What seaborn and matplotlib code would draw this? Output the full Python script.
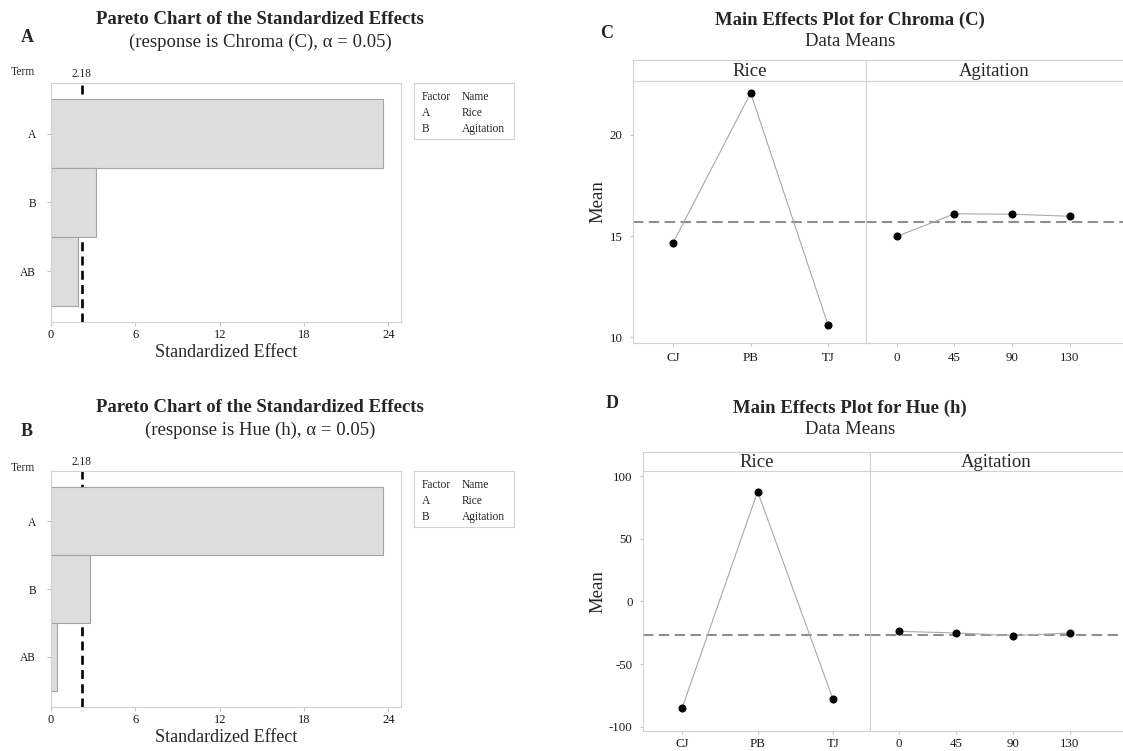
import matplotlib
matplotlib.use("Agg")
import matplotlib.pyplot as plt
import seaborn as sns
import pandas as pd

# Pareto charts of standardized effects
terms = ["A", "B", "AB"]
chroma_effects = [23.6, 3.2, 1.9]
hue_effects = [23.6, 2.8, 0.4]
t_critical = 2.18
effect_ticks = [0, 6, 12, 18, 24]
factor_codes = ["A", "B"]
factor_names = ["Rice", "Agitation"]

# Main effects (data means)
rice_levels = ["CJ", "PB", "TJ"]
agitation_levels = ["0", "45", "90", "130"]
chroma_rice = [14.68, 22.07, 10.61]
chroma_agitation = [14.98, 16.10, 16.08, 15.98]
chroma_grand_mean = 15.7
chroma_ticks = [10, 15, 20]
hue_rice = [-84.9, 87.6, -78.2]
hue_agitation = [-23.9, -25.2, -27.3, -25.2]
hue_grand_mean = -27.1
hue_ticks = [-100, -50, 0, 50, 100]

W, H = 1123, 751
sns.set_theme(style="ticks")
plt.rcParams["font.family"] = ["Liberation Serif", "DejaVu Serif"]
plt.rcParams["axes.unicode_minus"] = False

FRAME = "#d2d2d2"
fig = plt.figure(figsize=(W / 100, H / 100), dpi=100)


def box(l, t, r, b):
    return [l / W, 1 - b / H, (r - l) / W, (b - t) / H]


def ftext(x, y, s, **kw):
    kw.setdefault("ha", "center")
    kw.setdefault("va", "center")
    fig.text(x / W, 1 - y / H, s, **kw)


def style_frame(ax, sides=("left", "right", "top", "bottom")):
    for name, sp in ax.spines.items():
        sp.set_visible(name in sides)
        sp.set_color(FRAME)
        sp.set_linewidth(0.8)


def pareto(rect, effects, letter, subtitle, top):
    ax = fig.add_axes(box(*rect))
    df = pd.DataFrame({"Term": terms, "Effect": effects})
    ax.axvline(t_critical, color="black", lw=1.9, ls=(0, (3.4, 2.0)), zorder=0.5)
    sns.barplot(data=df, x="Effect", y="Term", orient="h", width=1.0,
                color="#dddddd", saturation=1, edgecolor="#a4a4a4",
                linewidth=0.8, ax=ax, zorder=2)
    ax.set_xlim(0, 24.9)
    ax.set_ylim(2.74, -0.74)
    ax.set_xticks(effect_ticks)
    ax.set_xlabel("")
    ax.set_ylabel("")
    style_frame(ax)
    ax.tick_params(axis="x", length=3, width=0.8, color="#c4c4c4",
                   labelsize=9, pad=2, labelcolor="#1a1a1a")
    ax.tick_params(axis="y", length=3, width=0.8, color="#c4c4c4",
                   labelsize=8.3, pad=8, labelcolor="#1a1a1a")

    ftext(260, top + 20, "Pareto Chart of the Standardized Effects",
          fontsize=13.5, fontweight="bold")
    ftext(260, top + 42, subtitle, fontsize=13.5)
    ftext(27, top + 38 if letter == "A" else top + 43, letter,
          fontsize=13, fontweight="bold")
    ftext(23, top + 72 if letter == "A" else top + 80, "Term", fontsize=8.3)
    ftext(81, rect[1] - 9, f"{t_critical:.2f}", fontsize=8.3)
    ftext(226, rect[3] + 31, "Standardized Effect", fontsize=13)

    # factor key
    lg = fig.add_axes(box(414, rect[1], 514, rect[1] + 56))
    lg.set_xticks([])
    lg.set_yticks([])
    style_frame(lg)
    rows = [("Factor", "Name")] + list(zip(factor_codes, factor_names))
    for i, (c, n) in enumerate(rows):
        yy = rect[1] + 13.7 + 16 * i
        ftext(421.7, yy, c, ha="left", fontsize=8.3)
        ftext(461.7, yy, n, ha="left", fontsize=8.3)


def main_effects(left, mid, top_strip, top_plot, bottom, rice_vals,
                 agit_vals, grand_mean, ylim, yticks, agit_xlim,
                 letter, letter_xy, title, title_y, xpad):
    ax_r = fig.add_axes(box(left, top_plot, mid, bottom))
    ax_a = fig.add_axes(box(mid, top_plot, W, bottom))
    for ax, levels, vals in ((ax_r, rice_levels, rice_vals),
                             (ax_a, agitation_levels, agit_vals)):
        ax.axhline(grand_mean, color="#8e8e8e", lw=1.5,
                   ls=(0, (5, 2.6)), zorder=1)
        sns.pointplot(x=levels, y=vals, color="#a9a9a9", markers="",
                      linewidth=0.8, errorbar=None, ax=ax, zorder=2)
        sns.pointplot(x=levels, y=vals, color="black", markers="o",
                      linestyle="none", markersize=5.8, markeredgewidth=0,
                      errorbar=None, ax=ax, zorder=3)
        ax.set_ylim(*ylim)
        ax.set_xlabel("")
        ax.set_ylabel("")
        ax.tick_params(axis="both", length=2.5, width=0.8, color="#c4c4c4",
                       labelsize=9.3, pad=5, labelcolor="#1a1a1a")
        ax.tick_params(axis="x", pad=xpad)
    ax_r.set_xlim(-0.52, 2.49)
    ax_a.set_xlim(*agit_xlim)
    ax_r.set_yticks(yticks)
    ax_a.set_yticks([])
    style_frame(ax_r, ("left", "right", "bottom"))
    style_frame(ax_a, ("left", "bottom"))

    # facet strips
    for l, r, label, sides in ((left, mid, "Rice", ("left", "right", "top", "bottom")),
                               (mid, W, "Agitation", ("left", "top", "bottom"))):
        st = fig.add_axes(box(l, top_strip, r, top_plot))
        st.set_xticks([])
        st.set_yticks([])
        style_frame(st, sides)
        st.text(0.5, 0.45, label, transform=st.transAxes, ha="center",
                va="center", fontsize=13.5)

    ftext(850, title_y, title, fontsize=13.5, fontweight="bold")
    ftext(850, title_y + 21.5, "Data Means", fontsize=13.5)
    ftext(letter_xy[0], letter_xy[1], letter, fontsize=13, fontweight="bold")
    ftext(598, (top_plot + bottom) / 2 + (-10 if letter == "C" else -9),
          "Mean", fontsize=13.5, rotation=90)


pareto((51, 83, 401, 322), chroma_effects, "A",
       "(response is Chroma (C), \u03b1 = 0.05)", 0)
pareto((51, 471, 401, 707), hue_effects, "B",
       "(response is Hue (h), \u03b1 = 0.05)", 388)

main_effects(633, 866, 60, 81, 343, chroma_rice, chroma_agitation,
             chroma_grand_mean, (9.72, 22.66), chroma_ticks, (-0.53, 3.92),
             "C", (607, 33), "Main Effects Plot for Chroma (C)", 20, 4)
main_effects(643, 870, 452, 471, 731, hue_rice, hue_agitation,
             hue_grand_mean, (-103.4, 104), hue_ticks, (-0.51, 3.93),
             "D", (612, 403), "Main Effects Plot for Hue (h)", 408, 2.5)

fig.savefig("out.png", dpi=100)
